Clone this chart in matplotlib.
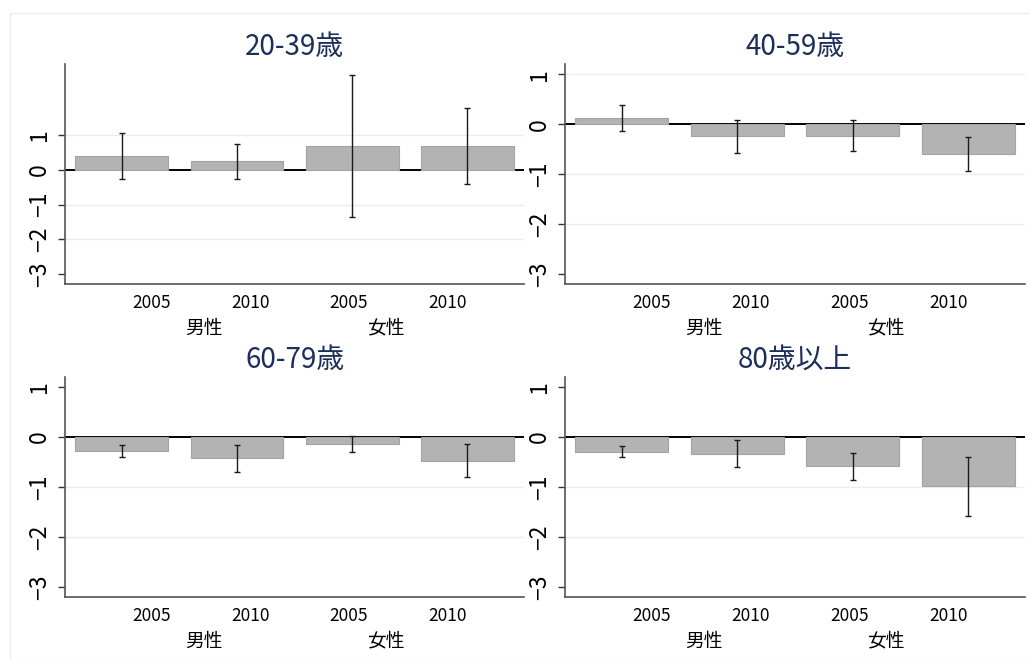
import numpy as np
import matplotlib
matplotlib.use('Agg')
import matplotlib.pyplot as plt
from matplotlib.patches import Rectangle

plt.rcParams['font.family'] = ['Noto Sans CJK JP', 'DejaVu Sans']

# Estimates and confidence intervals by age group (order: 男性2005, 男性2010, 女性2005, 女性2010)
titles = ['20-39歳', '40-59歳', '60-79歳', '80歳以上']
years = ['2005', '2010', '2005', '2010']
sexes = ['男性', '女性']

est_20 = [0.39, 0.24, 0.69, 0.67]
lo_20 = [-0.27, -0.26, -1.37, -0.42]
hi_20 = [1.05, 0.73, 2.73, 1.77]

est_40 = [0.13, -0.23, -0.23, -0.60]
lo_40 = [-0.14, -0.57, -0.53, -0.93]
hi_40 = [0.39, 0.09, 0.08, -0.26]

est_60 = [-0.27, -0.41, -0.14, -0.47]
lo_60 = [-0.39, -0.69, -0.29, -0.80]
hi_60 = [-0.15, -0.15, 0.02, -0.14]

est_80 = [-0.29, -0.33, -0.58, -0.97]
lo_80 = [-0.40, -0.60, -0.86, -1.57]
hi_80 = [-0.17, -0.05, -0.31, -0.39]

yticks = [-3, -2, -1, 0, 1]

panels = [
    (titles[0], est_20, lo_20, hi_20, (-3.29, 3.03), [1, -1, -2]),
    (titles[1], est_40, lo_40, hi_40, (-3.2, 1.2), [1, -1, -2]),
    (titles[2], est_60, lo_60, hi_60, (-3.2, 1.2), [-1, -2]),
    (titles[3], est_80, lo_80, hi_80, (-3.2, 1.2), [-1, -2]),
]

# axes boxes in pixels (left, top, right, bottom)
W, H = 1030, 659
boxes = [
    (65, 64.3, 524.3, 284.3),
    (565, 64.3, 1025, 284.3),
    (65, 377, 524.3, 597.3),
    (565, 377, 1025, 597.3),
]
year_pos = [0.259, 1.118, 1.971, 2.828]
sex_pos = [0.713, 2.29]

fig = plt.figure(figsize=(W / 100, H / 100), dpi=100)
fig.patches.append(Rectangle((10 / W, 0), 1, 1 - 13 / H, transform=fig.transFigure,
                             fill=False, edgecolor='#eeeeee', lw=1))

for (title, est, lo, hi, ylim, grid), (x0, y0, x1, y1) in zip(panels, boxes):
    ax = fig.add_axes([x0 / W, 1 - y1 / H, (x1 - x0) / W, (y1 - y0) / H])
    x = np.arange(len(est))
    est = np.array(est)
    yerr = [est - np.array(lo), np.array(hi) - est]

    for g in grid:
        ax.axhline(g, color='#e6eef1', lw=1, zorder=0)
    ax.axhline(0, color='black', lw=1.4, zorder=1)
    ax.bar(x, est, width=0.806, color='#b3b3b3', edgecolor='#a3a3a3', lw=0.8, zorder=2)
    ax.errorbar(x, est, yerr=yerr, fmt='none', ecolor='#1a1a1a', elinewidth=1.0,
                capsize=2.3, capthick=1.0, zorder=3)

    ax.set_xlim(-0.494, 3.494)
    ax.set_ylim(*ylim)
    ax.set_yticks(yticks)
    ax.set_yticklabels([f'\u2212{abs(t)}' if t < 0 else str(t) for t in yticks],
                       rotation=90, va='center')
    ax.tick_params(axis='y', length=5, width=1, color='#333333', pad=5, labelsize=16.5)
    ax.set_xticks([])

    for s in ['top', 'right']:
        ax.spines[s].set_visible(False)
    for s in ['left', 'bottom']:
        ax.spines[s].set_color('#555555')
        ax.spines[s].set_linewidth(1.2)

    h = y1 - y0
    for xp, lab in zip(year_pos, years):
        ax.text(xp, -19 / h, lab, transform=ax.get_xaxis_transform(),
                ha='center', va='center', fontsize=12.5)
    for xp, lab in zip(sex_pos, sexes):
        ax.text(xp, -43.7 / h, lab, transform=ax.get_xaxis_transform(),
                ha='center', va='center', fontsize=13.5)
    ax.text(0.5, 1 + 17 / h, title, transform=ax.transAxes, ha='center', va='center',
            fontsize=20, color='#1c2f5a')

fig.savefig('out.png', dpi=100)
